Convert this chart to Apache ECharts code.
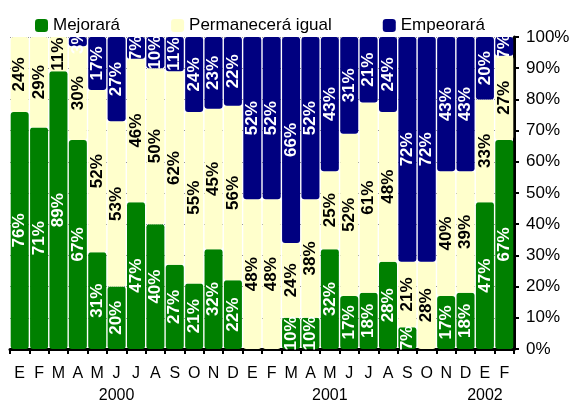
<!DOCTYPE html>
<html>
<head>
<meta charset="utf-8">
<script src="https://cdn.jsdelivr.net/npm/echarts@6/dist/echarts.min.js"></script>
<style>
html, body { margin: 0; padding: 0; background: #fff; }
#chart { width: 576px; height: 404px; }
</style>
</head>
<body>
<div id="chart"></div>
<script>
var months = ['E', 'F', 'M', 'A', 'M', 'J', 'J', 'A', 'S', 'O', 'N', 'D',
	'E', 'F', 'M', 'A', 'M', 'J', 'J', 'A', 'S', 'O', 'N', 'D',
	'E', 'F'];
var years = ['', '', '', '', '', '2000', '', '', '', '', '', '',
	'', '', '', '', '2001', '', '', '', '', '', '', '',
	'2002', ''];
var mejorara = [76, 71, 89, 67, 31, 20, 47, 40, 27, 21, 32, 22,
	0, 0, 10, 10, 32, 17, 18, 28, 7, 0, 17, 18,
	47, 67];
var permanecera = [24, 29, 11, 30, 52, 53, 46, 50, 62, 55, 45, 56,
	48, 48, 24, 38, 25, 52, 61, 48, 21, 28, 40, 39,
	33, 27];
var empeorara = [0, 0, 0, 3, 17, 27, 7, 10, 11, 24, 23, 22,
	52, 52, 66, 52, 43, 31, 21, 24, 72, 72, 43, 43,
	20, 7];

var font = 'Liberation Sans, Arial, sans-serif';
var chart = echarts.init(document.getElementById('chart'));

// etiqueta vertical dentro de cada segmento
function segLabel(color) {
	return {
		show: true,
		position: 'inside',
		rotate: 90,
		color: color,
		fontFamily: font,
		fontWeight: 'bold',
		fontSize: 17,
		formatter: function(p) {
			return p.value > 0 ? p.value + '%' : '';
		}
	};
}

function serie(name, data, color, textColor) {
	return {
		name: name,
		type: 'bar',
		stack: 'total',
		barWidth: 18,
		data: data,
		itemStyle: {
			color: color,
			borderRadius: 3
		},
		label: segLabel(textColor)
	};
}

var option = {
	animation: false,
	backgroundColor: '#fff',
	legend: {
		left: 30,
		top: 12,
		itemWidth: 13,
		itemHeight: 13,
		itemGap: 51,
		icon: 'roundRect',
		textStyle: {
			fontFamily: font,
			fontSize: 17,
			color: '#000'
		},
		data: ['Mejorará', 'Permanecerá igual', 'Empeorará']
	},
	grid: {
		left: 10,
		right: 62,
		top: 37,
		bottom: 52
	},
	xAxis: [{
		type: 'category',
		data: months,
		axisLine: {
			lineStyle: { color: '#000', width: 3 }
		},
		axisTick: {
			show: true,
			length: 5,
			lineStyle: { color: '#000', width: 2 }
		},
		axisLabel: {
			interval: 0,
			margin: 17,
			color: '#000',
			fontFamily: font,
			fontSize: 16
		}
	}, {
		type: 'category',
		data: years,
		position: 'bottom',
		axisLine: { show: false },
		axisTick: { show: false },
		axisLabel: {
			interval: 0,
			margin: 39,
			color: '#000',
			fontFamily: font,
			fontSize: 16
		}
	}],
	yAxis: {
		type: 'value',
		position: 'right',
		min: 0,
		max: 100,
		interval: 10,
		axisLine: {
			show: true,
			lineStyle: { color: '#000', width: 3 }
		},
		axisTick: {
			show: true,
			length: 5,
			lineStyle: { color: '#000', width: 2 }
		},
		axisLabel: {
			margin: 12,
			color: '#000',
			fontFamily: font,
			fontSize: 17,
			formatter: '{value}%'
		},
		splitLine: {
			show: true,
			lineStyle: { color: '#999', type: 'dotted', width: 1 }
		}
	},
	series: [
		serie('Mejorará', mejorara, '#008000', '#fff'),
		serie('Permanecerá igual', permanecera, '#FFFFCC', '#000'),
		serie('Empeorará', empeorara, '#000080', '#fff')
	]
};

chart.setOption(option);
</script>
</body>
</html>
